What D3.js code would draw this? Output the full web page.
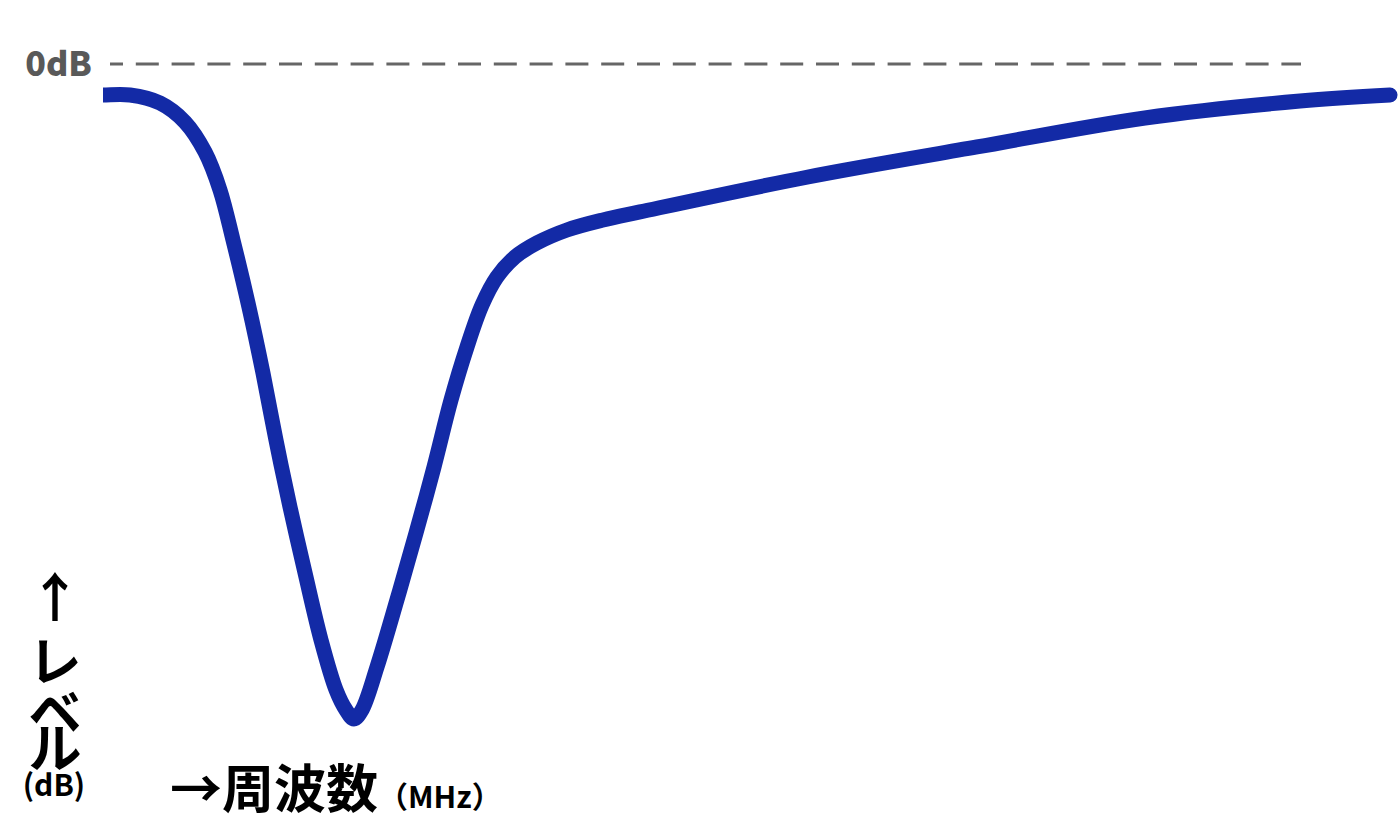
<!DOCTYPE html>
<html>
<head>
<meta charset="utf-8">
<script src="https://cdn.jsdelivr.net/npm/d3@7"></script>
<style>
  body { margin: 0; background: #fff; }
  svg { display: block; font-family: "Noto Sans CJK JP", "Noto Sans", sans-serif; }
</style>
</head>
<body>
<svg id="chart" width="1400" height="820"></svg>
<script>
// frequency (relative units, 0..100) and level (dB)
const freq = [0, 2.1, 4.43, 6.37, 7.93, 9.09, 10.1, 11.34, 12.43, 13.44, 14.53, 15.7, 16.94,
  18.11, 18.88, 19.5, 20.12, 21.29, 22.84, 24.32, 25.72, 27.04, 28.28, 29.45, 30.61, 32.01,
  33.72, 36.05, 38.85, 41.72, 54.78, 67.91, 80.96, 93.01, 100];
const level = [-1.89, -1.89, -2.38, -3.54, -5.37, -7.68, -10.73, -14.82, -18.84, -22.93,
  -27.01, -31.04, -35.12, -38.17, -39.39, -39.94, -39.39, -36.77, -32.68, -28.6, -24.57,
  -20.49, -17.26, -14.7, -12.99, -11.77, -10.91, -10.12, -9.51, -9.02, -6.89, -5.06, -3.29,
  -2.26, -1.89];
const refLevel = 0;
const refLabel = "0dB";
const yLabelChars = ["↑", "レ", "ベ", "ル"];
const yUnit = "(dB)";
const xLabel = "→周波数";
const xUnit = "（MHz）";

const svg = d3.select("#chart");

const x = d3.scaleLinear().domain([0, 100]).range([103, 1390]);
const y = d3.scaleLinear().domain([0, -40]).range([64, 720]);

const points = freq.map((f, i) => [f, level[i]]);

// reference line at 0dB
svg.append("line")
  .attr("x1", 110)
  .attr("x2", 1301)
  .attr("y1", y(refLevel))
  .attr("y2", y(refLevel))
  .attr("stroke", "#666")
  .attr("stroke-width", 3)
  .attr("stroke-dasharray", "23 12.8")
  .attr("stroke-dashoffset", 10);

svg.append("text")
  .attr("x", 92)
  .attr("y", y(refLevel) + 12)
  .attr("text-anchor", "end")
  .attr("font-size", 34)
  .attr("font-weight", 900)
  .attr("fill", "#595959")
  .text(refLabel);

// response curve, left end cut flat
svg.append("clipPath")
  .attr("id", "clip")
  .append("rect")
  .attr("x", x(0))
  .attr("y", 0)
  .attr("width", 1400)
  .attr("height", 820);

const line = d3.line()
  .x((d) => x(d[0]))
  .y((d) => y(d[1]))
  .curve(d3.curveCatmullRom.alpha(0.5));

svg.append("path")
  .datum([[-1, level[0]]].concat(points))
  .attr("clip-path", "url(#clip)")
  .attr("d", line)
  .attr("fill", "none")
  .attr("stroke", "#132aa6")
  .attr("stroke-width", 15)
  .attr("stroke-linecap", "round")
  .attr("stroke-linejoin", "round");

// y axis label, stacked vertically
const yLab = svg.append("text")
  .attr("text-anchor", "middle")
  .attr("font-weight", "bold")
  .attr("fill", "#000");

const charY = [617, 681, 732, 768];
yLab.selectAll("tspan")
  .data(yLabelChars)
  .enter()
  .append("tspan")
  .attr("x", 55)
  .attr("y", (d, i) => charY[i])
  .attr("font-size", 53)
  .text((d) => d);

svg.append("text")
  .attr("x", 54)
  .attr("y", 796)
  .attr("text-anchor", "middle")
  .attr("font-size", 30)
  .attr("font-weight", "bold")
  .attr("fill", "#000")
  .text(yUnit);

// x axis label
const xLab = svg.append("text")
  .attr("x", 170)
  .attr("y", 808)
  .attr("font-weight", "bold")
  .attr("fill", "#000");

xLab.append("tspan")
  .attr("font-size", 52)
  .text(xLabel);

xLab.append("tspan")
  .attr("font-size", 30)
  .text(xUnit);
</script>
</body>
</html>
